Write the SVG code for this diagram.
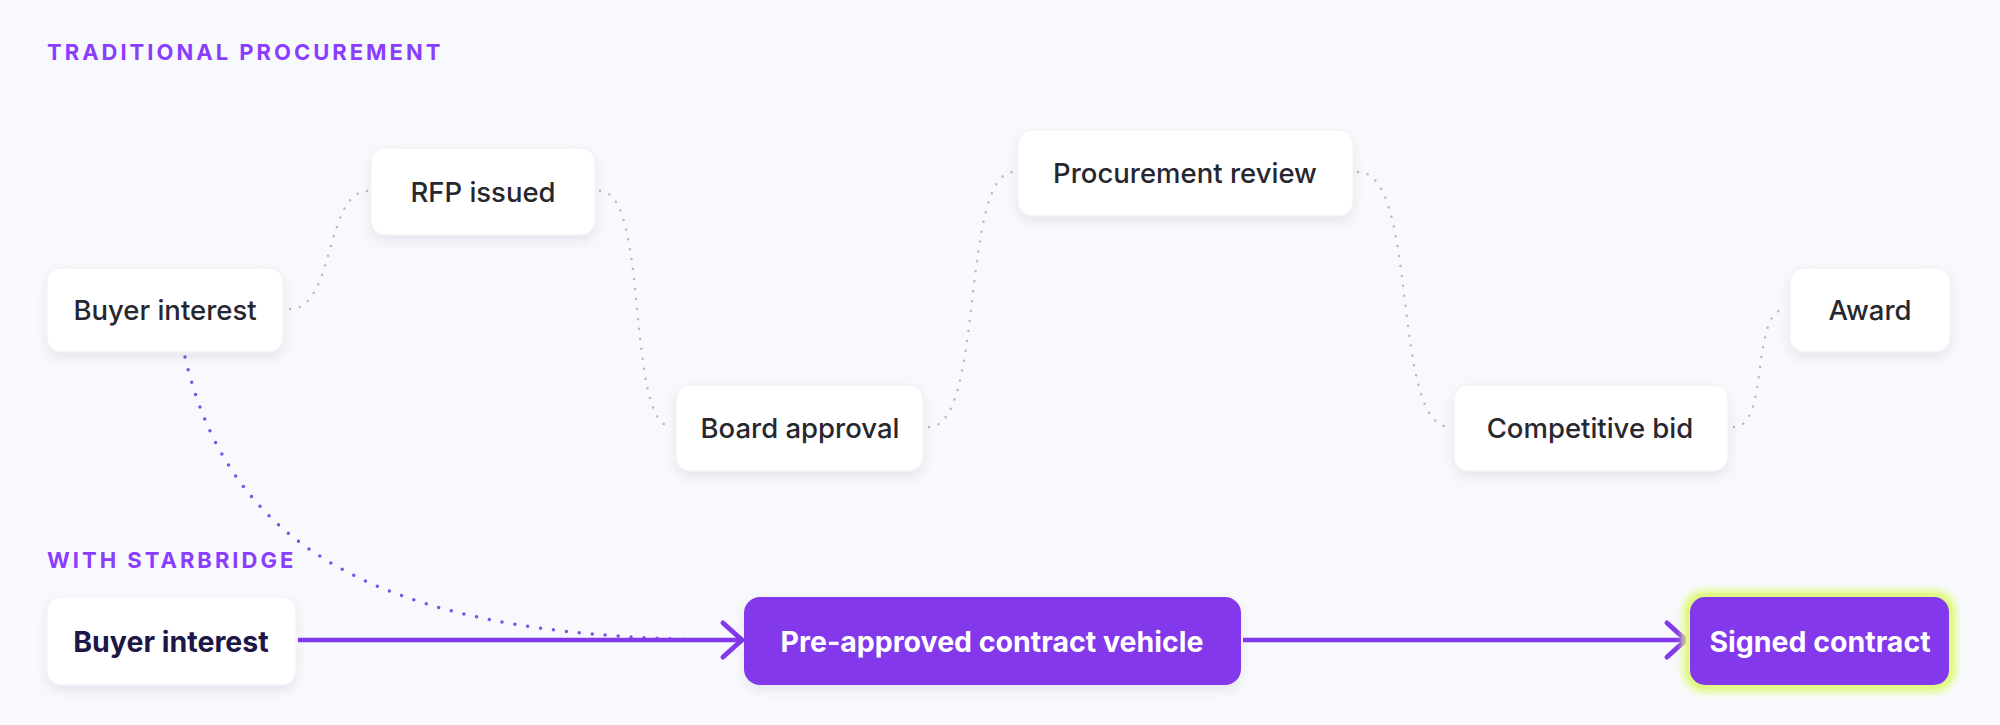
<svg xmlns="http://www.w3.org/2000/svg" width="2000" height="725" viewBox="0 0 2000 725">
<defs>
<style>
.sec{font-family:Inter,"Noto Sans",sans-serif;font-weight:700;font-size:22px;letter-spacing:3px;fill:#8b3dff}
.box{fill:#ffffff;stroke:#eef0f4;stroke-width:1}
.lbl{font-family:Inter,"Noto Sans",sans-serif;font-weight:500;font-size:27.5px;fill:#27272f;text-anchor:middle;dominant-baseline:central}
.blbl{font-family:Inter,"Noto Sans",sans-serif;font-weight:700;font-size:28.5px;text-anchor:middle;dominant-baseline:central}
.gdot{fill:none;stroke:#b4b8c4;stroke-width:2.5;stroke-linecap:round;stroke-dasharray:0 10}
.pdot{fill:none;stroke:#7a52e8;stroke-width:3.5;stroke-linecap:round;stroke-dasharray:0 13}
.arrow{fill:none;stroke:#8338ec;stroke-width:4.5;marker-end:url(#chev)}
</style>
<filter id="sh" x="-20%" y="-30%" width="140%" height="170%">
<feDropShadow dx="0" dy="5" stdDeviation="6" flood-color="#1c2340" flood-opacity="0.08"/>
</filter>
<filter id="glow" x="-20%" y="-30%" width="140%" height="160%">
<feGaussianBlur stdDeviation="3"/>
</filter>
<marker id="chev" viewBox="-26 -22 30 44" markerWidth="30" markerHeight="44" refX="0" refY="0" orient="auto" markerUnits="userSpaceOnUse">
<path d="M -19 -17 L 0 0 L -19 17" fill="none" stroke="#8338ec" stroke-width="5" stroke-linecap="round" stroke-linejoin="round"/>
</marker>
</defs>
<rect width="2000" height="725" fill="#f8f9fc"/>

<text class="sec" x="47" y="60">TRADITIONAL PROCUREMENT</text>
<text class="sec" x="47" y="568">WITH STARBRIDGE</text>

<g id="connectors">
<path class="gdot" d="M 290 309 C 335 309, 325 191, 368 191"/>
<path class="gdot" d="M 600 191 C 650 191, 625 427, 672 427"/>
<path class="gdot" d="M 929 427 C 985 427, 960 172, 1014 172"/>
<path class="gdot" d="M 1358 172 C 1420 172, 1390 427, 1450 427"/>
<path class="gdot" d="M 1734 427 C 1770 427, 1750 309, 1786 309"/>
<path class="pdot" d="M 185 357 C 232 560, 400 640, 738 640"/>
<path class="arrow" d="M 298 640 L 742 640"/>
<path class="arrow" d="M 1243 640 L 1686 640"/>
</g>

<g id="node-buyer-interest-top">
<rect class="box" x="47" y="268" width="236" height="84" rx="14" filter="url(#sh)"/>
<text class="lbl" x="165" y="310">Buyer interest</text>
</g>
<g id="node-rfp-issued">
<rect class="box" x="371" y="148" width="224" height="87" rx="14" filter="url(#sh)"/>
<text class="lbl" x="483" y="192">RFP issued</text>
</g>
<g id="node-board-approval">
<rect class="box" x="676" y="385" width="247" height="86" rx="14" filter="url(#sh)"/>
<text class="lbl" x="800" y="428">Board approval</text>
</g>
<g id="node-procurement-review">
<rect class="box" x="1018" y="130" width="335" height="86" rx="14" filter="url(#sh)"/>
<text class="lbl" x="1185" y="173">Procurement review</text>
</g>
<g id="node-competitive-bid">
<rect class="box" x="1454" y="385" width="274" height="86" rx="14" filter="url(#sh)"/>
<text class="lbl" x="1590" y="428">Competitive bid</text>
</g>
<g id="node-award">
<rect class="box" x="1790" y="268" width="160" height="84" rx="14" filter="url(#sh)"/>
<text class="lbl" x="1870" y="310">Award</text>
</g>

<g id="node-buyer-interest-bottom">
<rect class="box" x="47" y="597" width="249" height="88" rx="14" filter="url(#sh)"/>
<text class="blbl" x="171" y="641" fill="#1c1747">Buyer interest</text>
</g>
<g id="node-pre-approved">
<rect x="744" y="597" width="497" height="88" rx="16" fill="#8338ec" filter="url(#sh)"/>
<text class="blbl" x="992" y="641" fill="#ffffff">Pre-approved contract vehicle</text>
</g>
<g id="node-signed-contract">
<rect x="1686" y="593" width="267" height="96" rx="19" fill="none" stroke="#e2fb86" stroke-width="7" filter="url(#glow)"/>
<rect x="1688" y="595" width="263" height="92" rx="17" fill="#8338ec" stroke="#e0f888" stroke-width="4"/>
<text class="blbl" x="1820" y="641" fill="#ffffff">Signed contract</text>
</g>
</svg>
